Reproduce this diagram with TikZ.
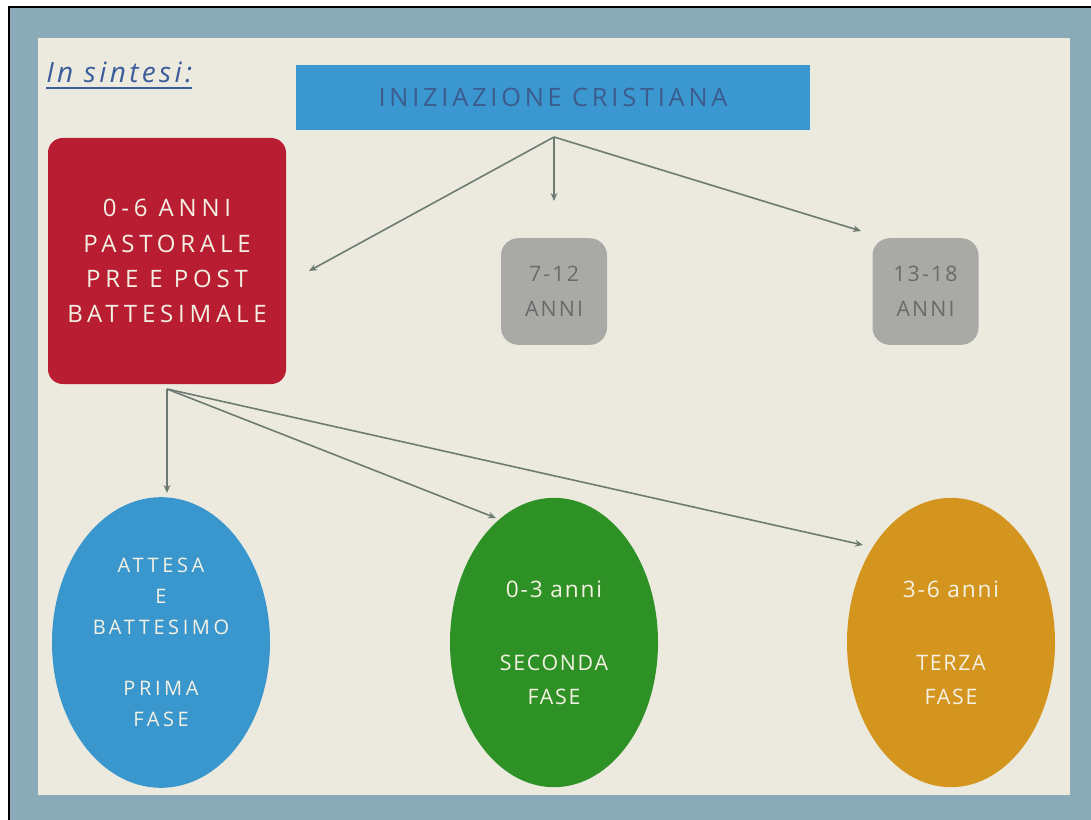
\documentclass[tikz,border=0pt]{standalone}
\usepackage{fontspec}
\setmainfont{Open Sans}
\usetikzlibrary{arrows.meta,shapes.geometric}
\definecolor{framec}{HTML}{8AAAB7}
\definecolor{creamc}{HTML}{ECEADF}
\definecolor{titleblue}{HTML}{3A97CF}
\definecolor{titletext}{HTML}{3D5C8E}
\definecolor{redc}{HTML}{B91D32}
\definecolor{arrowc}{HTML}{6E7B72}
\definecolor{blueell}{HTML}{3A97CD}
\definecolor{greenell}{HTML}{2E9125}
\definecolor{orangeell}{HTML}{D4951E}
\definecolor{lighttext}{HTML}{F4F1E4}
\definecolor{sintesic}{HTML}{3B5E9B}
\definecolor{greybox}{HTML}{A9A9A6}
\definecolor{greytext}{HTML}{6A6A6A}
\tikzset{
  arr/.style={draw=arrowc, line width=1.2pt, -{Stealth[length=6pt,width=5pt]}},
  ellbox/.style={ellipse, inner sep=0pt, text=lighttext, align=center},
  greyrect/.style={rectangle, rounded corners=13pt, fill=greybox, text=greytext,
    minimum width=79.5pt, minimum height=80pt, inner sep=0pt, align=center,
    font=\fontsize{16}{26}\selectfont\addfontfeatures{LetterSpace=10}}
}
\begin{document}
\begin{tikzpicture}[x=0.75pt,y=-0.75pt]
\useasboundingbox (0,0) rectangle (1091,820);
\fill[white] (0,0) rectangle (1091,820);
\fill[framec] (9,7) rectangle (1091,820);
\draw[black, line width=2.2pt] (9,820) -- (9,7) -- (1091,7);
\fill[creamc] (38,38) rectangle (1070,795);

% heading
\node[text=sintesic, font=\fontsize{21}{24}\selectfont\itshape\addfontfeatures{LetterSpace=12}, inner sep=0pt, anchor=base west] (sint) at (46,83) {In sintesi:};
\draw[sintesic, line width=1.6pt] ([yshift=-4pt]sint.base west) -- ([yshift=-4pt]sint.base east);

% title
\node[fill=titleblue, text=titletext, minimum width=385.5pt, minimum height=48.75pt, inner sep=0pt,
      font=\fontsize{19}{22}\selectfont\addfontfeatures{LetterSpace=15}] (title) at (553,97.5) {INIZIAZIONE CRISTIANA};

% red box
\node[fill=redc, rounded corners=11pt, minimum width=178.5pt, minimum height=184.5pt, inner sep=0pt,
      text=lighttext, align=center, font=\fontsize{18}{26.3}\selectfont\addfontfeatures{LetterSpace=20}] (red) at (167,261)
      {0-6 ANNI\\PASTORALE\\PRE E POST\\BATTESIMALE};

% grey boxes
\node[greyrect] (g1) at (554,291.5) {7-12\\ANNI};
\node[greyrect] (g2) at (925.5,291.5) {13-18\\ANNI};

% ellipses
\node[ellbox, fill=blueell, minimum width=163.5pt, minimum height=218pt,
      font=\fontsize{15}{23}\selectfont\addfontfeatures{LetterSpace=18}] (e1) at (161,642.5)
      {ATTESA\\E\\BATTESIMO\\[23pt]PRIMA\\FASE};
\node[ellbox, fill=greenell, minimum width=156pt, minimum height=217pt,
      font=\fontsize{16}{25}\selectfont\addfontfeatures{LetterSpace=8}] (e2) at (554,642.5)
      {{\fontsize{17}{20}\selectfont 0-3 anni}\\[30pt]SECONDA\\FASE};
\node[ellbox, fill=orangeell, minimum width=156pt, minimum height=217pt,
      font=\fontsize{16}{25}\selectfont\addfontfeatures{LetterSpace=8}] (e3) at (951,642.5)
      {{\fontsize{17}{20}\selectfont 3-6 anni}\\[30pt]TERZA\\FASE};

% connector coordinates
\coordinate (ts) at (554,137);
\coordinate (t1) at (309,271);
\coordinate (t2) at (554,201);
\coordinate (t3) at (861,231);
\coordinate (rs) at (167,389);
\coordinate (r1) at (167,493);
\coordinate (r2) at (496,518);
\coordinate (r3) at (863,545);

\draw[arr] (ts) -- (t1);
\draw[arr] (ts) -- (t2);
\draw[arr] (ts) -- (t3);
\draw[arr] (rs) -- (r1);
\draw[arr] (rs) -- (r2);
\draw[arr] (rs) -- (r3);
\end{tikzpicture}
\end{document}
